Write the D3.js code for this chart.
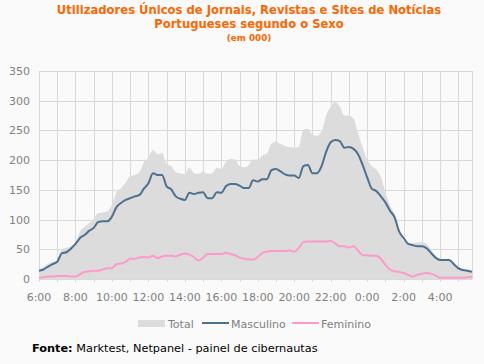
<!DOCTYPE html>
<html>
<head>
<meta charset="utf-8">
<script src="https://d3js.org/d3.v7.min.js"></script>
<style>
  body { margin: 0; background: #fafafa; }
  text { font-family: "DejaVu Sans", Verdana, sans-serif; }
</style>
</head>
<body>
<div id="chart"></div>
<script>
// 15-minute intervals from 6:00 to 5:45 (96 points), values in thousands
var total = [15,20,26,29,31,50,52,55,60,80,88,94,101,111,112,114,125,146,153,162,
  173,175,179,196,204,217,210,212,193,190,180,178,176,187,178,177,181,177,178,187,
  185,197,202,201,190,188,192,201,201,208,211,228,231,227,224,222,221,222,251,253,
  243,241,248,275,290,298,290,275,275,270,245,222,201,190,184,172,146,124,110,86,
  64,61,60,62,62,59,50,38,33,33,32,28,21,17,16,15];
var masculino = [14,16,21,25,29,43,45,51,59,69,74,81,86,96,97,97,105,121,128,133,
  136,139,141,152,161,178,175,175,156,151,139,135,133,145,143,145,146,136,136,146,
  145,156,160,160,157,153,153,166,164,168,168,183,185,181,176,174,174,170,190,192,
  178,178,190,214,230,234,232,221,222,219,210,192,171,152,148,139,129,115,104,80,
  69,59,57,55,55,52,44,36,32,32,32,25,18,15,14,12];
var feminino = [2,3,4,4,5,5,5,4,4,8,12,13,14,14,16,18,18,25,26,29,
  34,34,36,37,36,39,35,38,39,39,38,41,43,41,37,31,36,42,42,42,
  42,44,42,40,36,34,33,33,37,44,46,47,47,47,47,48,46,52,62,63,
  63,63,63,63,64,60,55,55,53,55,48,40,40,39,39,34,24,16,13,12,
  10,7,4,7,9,10,9,6,2,2,2,2,2,2,3,4];
var hourLabels = ["6:00","8:00","10:00","12:00","14:00","16:00","18:00","20:00","22:00","0:00","2:00","4:00"];
var yTicks = [0,50,100,150,200,250,300,350];

var W = 484, H = 364;
var margin = {top: 71, right: 12, bottom: 85, left: 39};
var width = W - margin.left - margin.right,
    height = H - margin.top - margin.bottom;

var svg = d3.select("#chart").append("svg")
  .attr("width", W).attr("height", H)
  .style("display", "block");

// titles
svg.append("text").attr("x", 249).attr("y", 14).attr("text-anchor", "middle")
  .style("font-size", "11.6px").style("font-weight", "bold").style("fill", "#ff6600")
  .text("Utilizadores Únicos de Jornais, Revistas e Sites de Notícias");
svg.append("text").attr("x", 249).attr("y", 28).attr("text-anchor", "middle")
  .style("font-size", "11.6px").style("font-weight", "bold").style("fill", "#ff6600")
  .text("Portugueses segundo o Sexo");
svg.append("text").attr("x", 249).attr("y", 40.5).attr("text-anchor", "middle")
  .style("font-size", "8.8px").style("font-weight", "bold").style("fill", "#ff6600")
  .text("(em 000)");

var g = svg.append("g").attr("transform", "translate(" + margin.left + "," + margin.top + ")");

var x = d3.scaleLinear().domain([0, 23.75]).range([0, width]);
var y = d3.scaleLinear().domain([0, 350]).range([height, 0]);

// grid
g.append("g").selectAll("line").data(d3.range(0, 24)).enter().append("line")
  .attr("x1", function(d){ return Math.round(x(d)) + 0.5; })
  .attr("x2", function(d){ return Math.round(x(d)) + 0.5; })
  .attr("y1", 0).attr("y2", height + 3)
  .attr("stroke", "#d9d9d9");
g.append("line").attr("x1", width + 0.5).attr("x2", width + 0.5)
  .attr("y1", 0).attr("y2", height).attr("stroke", "#d9d9d9");
g.append("g").selectAll("line").data(yTicks).enter().append("line")
  .attr("x1", 0).attr("x2", width)
  .attr("y1", function(d){ return Math.round(y(d)) + 0.5; })
  .attr("y2", function(d){ return Math.round(y(d)) + 0.5; })
  .attr("stroke", "#d9d9d9");

// y labels
g.append("g").selectAll("text").data(yTicks).enter().append("text")
  .attr("x", -9).attr("y", function(d){ return y(d) + 4; })
  .attr("text-anchor", "end")
  .style("font-size", "11px").style("fill", "#808080")
  .text(function(d){ return d; });

// x labels
g.append("g").selectAll("text").data(hourLabels).enter().append("text")
  .attr("x", function(d, i){ return x(i * 2); })
  .attr("y", height + 22)
  .attr("text-anchor", "middle")
  .style("font-size", "11px").style("fill", "#808080")
  .text(function(d){ return d; });

var area = d3.area()
  .x(function(d, i){ return x(i / 4); })
  .y0(height)
  .y1(function(d){ return y(d); })
  .curve(d3.curveMonotoneX);
g.append("path").datum(total).attr("d", area).attr("fill", "#dcdcdc");

var line = d3.line()
  .x(function(d, i){ return x(i / 4); })
  .y(function(d){ return y(d); })
  .curve(d3.curveMonotoneX);
g.append("path").datum(masculino).attr("d", line)
  .attr("fill", "none").attr("stroke", "#4b7090").attr("stroke-width", 2);
g.append("path").datum(feminino).attr("d", line)
  .attr("fill", "none").attr("stroke", "#ff99cc").attr("stroke-width", 2);

// legend
var lg = svg.append("g");
lg.append("rect").attr("x", 138).attr("y", 320).attr("width", 27).attr("height", 7).attr("fill", "#dcdcdc");
lg.append("text").attr("x", 168).attr("y", 327.5).style("font-size", "11px").style("fill", "#808080").text("Total");
lg.append("line").attr("x1", 202).attr("x2", 229).attr("y1", 323).attr("y2", 323).attr("stroke", "#4b7090").attr("stroke-width", 2);
lg.append("text").attr("x", 231).attr("y", 327.5).style("font-size", "11px").style("fill", "#808080").text("Masculino");
lg.append("line").attr("x1", 292).attr("x2", 319).attr("y1", 323).attr("y2", 323).attr("stroke", "#ff99cc").attr("stroke-width", 2);
lg.append("text").attr("x", 321).attr("y", 327.5).style("font-size", "11px").style("fill", "#808080").text("Feminino");

// source
var src = svg.append("text").attr("x", 32).attr("y", 352).style("font-size", "11.3px").style("fill", "#000");
src.append("tspan").style("font-weight", "bold").text("Fonte:");
src.append("tspan").text(" Marktest, Netpanel - painel de cibernautas");
</script>
</body>
</html>
